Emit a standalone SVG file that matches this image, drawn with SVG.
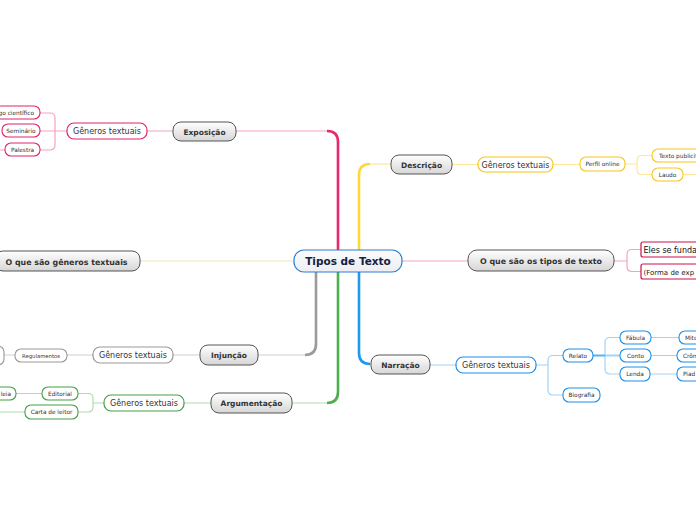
<svg xmlns="http://www.w3.org/2000/svg" width="696" height="520" viewBox="0 0 696 520">
<defs>
<linearGradient id="g" x1="0" y1="0" x2="0" y2="1">
<stop offset="0" stop-color="#ffffff"/><stop offset="1" stop-color="#d6d6d6"/>
</linearGradient>
<linearGradient id="gc" x1="0" y1="0" x2="0" y2="1">
<stop offset="0" stop-color="#fbfbfd"/><stop offset="1" stop-color="#eceef2"/>
</linearGradient>
</defs>
<style>
text{font-family:"DejaVu Sans","Verdana",sans-serif;fill:#333}
.main rect{fill:url(#g);stroke:#555;stroke-width:1}
.main text{font-weight:bold;font-size:7.5px;text-anchor:middle}
.sub rect{fill:#fff;stroke-width:1.2}
.sub text{font-size:8px;text-anchor:middle}
.leaf rect{fill:#fff;stroke-width:1.1}
.leaf text{font-size:5.8px;text-anchor:middle}
.c{fill:none}
.pk{stroke:#e8276f}.pkl{stroke:#f4a3c2}
.yw{stroke:#fcd93a}.ywl{stroke:#fde79a}
.bl{stroke:#1e9af0}.bll{stroke:#a3d3f6}
.gr{stroke:#4cae4c}.grl{stroke:#b2dbb2}
.gy{stroke:#9a9a9a}.gyl{stroke:#d0d0d0}
.rpk rect{stroke:#e0246e}.ryw rect{stroke:#f7c81e}.rbl rect{stroke:#1e90e8}.rgr rect{stroke:#43a047}.rgy rect{stroke:#999}.rcr rect{stroke:#d0104c}
</style>
<g id="connectors">
<path class="c pk" stroke-width="2.6" d="M338,250 V142 Q338,131 327,131"/>
<path class="c pkl" stroke-width="1.2" d="M327,131 H236"/>
<path class="c yw" stroke-width="2.6" d="M359,250 V175 Q359,164 370,164"/>
<path class="c ywl" stroke-width="1.2" d="M370,164 H391"/>
<path class="c bl" stroke-width="2.6" d="M359,272 V353 Q359,364 370,364"/>
<path class="c bll" stroke-width="1.2" d="M370,364 H371"/>
<path class="c gr" stroke-width="2.6" d="M338,272 V392 Q338,403 327,403"/>
<path class="c grl" stroke-width="1.2" d="M327,403 H292"/>
<path class="c gy" stroke-width="2.6" d="M316,272 V344 Q316,355 305,355"/>
<path class="c gyl" stroke-width="1.2" d="M305,355 H258"/>
<path class="c pkl" stroke-width="1.2" d="M402,261 H468"/>
<path class="c" stroke="#efe6bc" stroke-width="1.2" d="M140,261 H294"/>
<path class="c pkl" stroke-width="1.2" d="M147,131 H173 M40,131 H67 M40,113 H50 Q55,113 55,118 V145 Q55,150 50,150 H40 M0,150 H5"/>
<path class="c ywl" stroke-width="1.2" d="M452,164.5 H478 M553,164.5 H580 M625,164 H637 M652,155.5 H642 Q637,155.5 637,160.5 V169.5 Q637,174.5 642,174.5 H652 M683,174.5 H696"/>
<path class="c pkl" stroke-width="1.2" d="M614,261 H627 M641,249.5 H632 Q627,249.5 627,254.5 V266.5 Q627,271.5 632,271.5 H641"/>
<path class="c bll" stroke-width="1.2" d="M430,365 H456 M536,365 H548 M563,355.5 H553 Q548,355.5 548,360.5 V390 Q548,395 553,395 H563 M620,337.5 H610 Q605,337.5 605,342.5 V369 Q605,374 610,374 H620 M651,337.5 H679 M651,355.5 H677 M650,374 H677"/>
<path class="c" stroke="#5ab2f2" stroke-width="2" d="M593,355.5 H605"/>
<path class="c bll" stroke-width="2" d="M605,355.5 H620"/>
<path class="c gyl" stroke-width="1.2" d="M173,355 H200 M67,355 H93 M4,355 H15"/>
<path class="c grl" stroke-width="1.2" d="M184,403 H211 M104,403 H93 M78,393.5 H88 Q93,393.5 93,398.5 V407 Q93,412 88,412 H78 M16,393.5 H42 M0,412 H25"/>
</g>
<g id="center">
<rect x="294" y="250" width="108" height="22" rx="10" fill="url(#gc)" stroke="#2b7fd0" stroke-width="1.2"/>
<text x="348" y="265" text-anchor="middle" font-weight="bold" font-size="10.5px" style="fill:#13223f">Tipos de Texto</text>
</g>
<g id="exposicao" class="main"><rect x="173" y="122" width="63" height="19" rx="8"/><text x="204.5" y="134.5">Exposição</text></g>
<g id="descricao" class="main"><rect x="391" y="155" width="61" height="19" rx="8"/><text x="421.5" y="167.5">Descrição</text></g>
<g id="tipos" class="main"><rect x="468" y="250" width="146" height="21" rx="9"/><text x="541" y="264" style="font-size:7.9px">O que são os tipos de texto</text></g>
<g id="narracao" class="main"><rect x="371" y="355" width="59" height="19" rx="8"/><text x="400.5" y="367.5">Narração</text></g>
<g id="argumentacao" class="main"><rect x="211" y="393" width="81" height="20" rx="8"/><text x="251.5" y="406">Argumentação</text></g>
<g id="injuncao" class="main"><rect x="200" y="345" width="58" height="20" rx="8"/><text x="229" y="358">Injunção</text></g>
<g id="generos" class="main"><rect x="-5" y="251" width="145" height="20" rx="8"/><text x="66.5" y="264.5" style="font-size:7.9px">O que são gêneros textuais</text></g>

<g id="exp-gen" class="sub rpk"><rect x="67" y="123" width="80" height="16" rx="7"/><text x="107" y="134">Gêneros textuais</text></g>
<g id="exp-artigo" class="leaf rpk"><rect x="-30" y="106" width="70" height="13" rx="6"/><text x="34" y="115" style="text-anchor:end">go científico</text></g>
<g id="exp-seminario" class="leaf rpk"><rect x="2" y="124" width="38" height="13" rx="6"/><text x="21" y="133">Seminário</text></g>
<g id="exp-palestra" class="leaf rpk"><rect x="5" y="143" width="35" height="13" rx="6"/><text x="22.5" y="152">Palestra</text></g>

<g id="des-gen" class="sub ryw"><rect x="478" y="157" width="75" height="15" rx="7"/><text x="515.5" y="167.5">Gêneros textuais</text></g>
<g id="des-perfil" class="leaf ryw"><rect x="580" y="157" width="45" height="14" rx="6"/><text x="602.5" y="166.3">Perfil online</text></g>
<g id="des-texto" class="leaf ryw"><rect x="652" y="149" width="70" height="13" rx="6"/><text x="659" y="158" style="text-anchor:start">Texto publicit</text></g>
<g id="des-laudo" class="leaf ryw"><rect x="652" y="168" width="31" height="13" rx="6"/><text x="667.5" y="177">Laudo</text></g>

<g id="tip-eles" class="sub rcr"><rect x="641" y="242" width="80" height="15" rx="2"/><text x="643.5" y="253" style="text-anchor:start;font-size:8px;fill:#111">Eles se funda</text></g>
<g id="tip-forma" class="sub rcr"><rect x="641" y="264" width="80" height="15" rx="2"/><text x="643.5" y="274.5" style="text-anchor:start;font-size:7px;fill:#222">(Forma de exp</text></g>

<g id="nar-gen" class="sub rbl"><rect x="456" y="357" width="80" height="16" rx="7"/><text x="496" y="368">Gêneros textuais</text></g>
<g id="nar-relato" class="leaf rbl"><rect x="563" y="349" width="30" height="13" rx="6"/><text x="578" y="358">Relato</text></g>
<g id="nar-biografia" class="leaf rbl"><rect x="563" y="388" width="37" height="14" rx="6"/><text x="581.5" y="397.3">Biografia</text></g>
<g id="nar-fabula" class="leaf rbl"><rect x="620" y="331" width="31" height="13" rx="6"/><text x="635.5" y="340">Fábula</text></g>
<g id="nar-conto" class="leaf rbl"><rect x="620" y="349" width="31" height="13" rx="6"/><text x="635.5" y="358">Conto</text></g>
<g id="nar-lenda" class="leaf rbl"><rect x="620" y="367" width="30" height="14" rx="6"/><text x="635" y="376.3">Lenda</text></g>
<g id="nar-mito" class="leaf rbl"><rect x="679" y="331" width="40" height="13" rx="6"/><text x="685" y="340" style="text-anchor:start">Mito</text></g>
<g id="nar-cronica" class="leaf rbl"><rect x="677" y="349" width="40" height="13" rx="6"/><text x="683" y="358" style="text-anchor:start">Crôn</text></g>
<g id="nar-piada" class="leaf rbl"><rect x="677" y="367" width="40" height="14" rx="6"/><text x="683" y="376.3" style="text-anchor:start">Piad</text></g>

<g id="inj-gen" class="sub rgy"><rect x="93" y="347" width="80" height="16" rx="7"/><text x="133" y="358">Gêneros textuais</text></g>
<g id="inj-reg" class="leaf rgy"><rect x="15" y="349" width="52" height="13" rx="6"/><text x="41" y="357.8" style="font-size:5.3px">Regulamentos</text></g>
<g id="inj-prev" class="leaf rgy"><rect x="-40" y="346" width="44" height="19" rx="6"/></g>

<g id="arg-gen" class="sub rgr"><rect x="104" y="395" width="80" height="16" rx="7"/><text x="144" y="406">Gêneros textuais</text></g>
<g id="arg-editorial" class="leaf rgr"><rect x="42" y="387" width="36" height="13" rx="6"/><text x="60" y="396">Editorial</text></g>
<g id="arg-carta" class="leaf rgr"><rect x="25" y="405" width="53" height="14" rx="6"/><text x="51.5" y="414.3">Carta de leitor</text></g>
<g id="arg-leia" class="leaf rgr"><rect x="-30" y="387" width="46" height="13" rx="6"/><text x="11" y="396" style="text-anchor:end">leia</text></g>
</svg>
